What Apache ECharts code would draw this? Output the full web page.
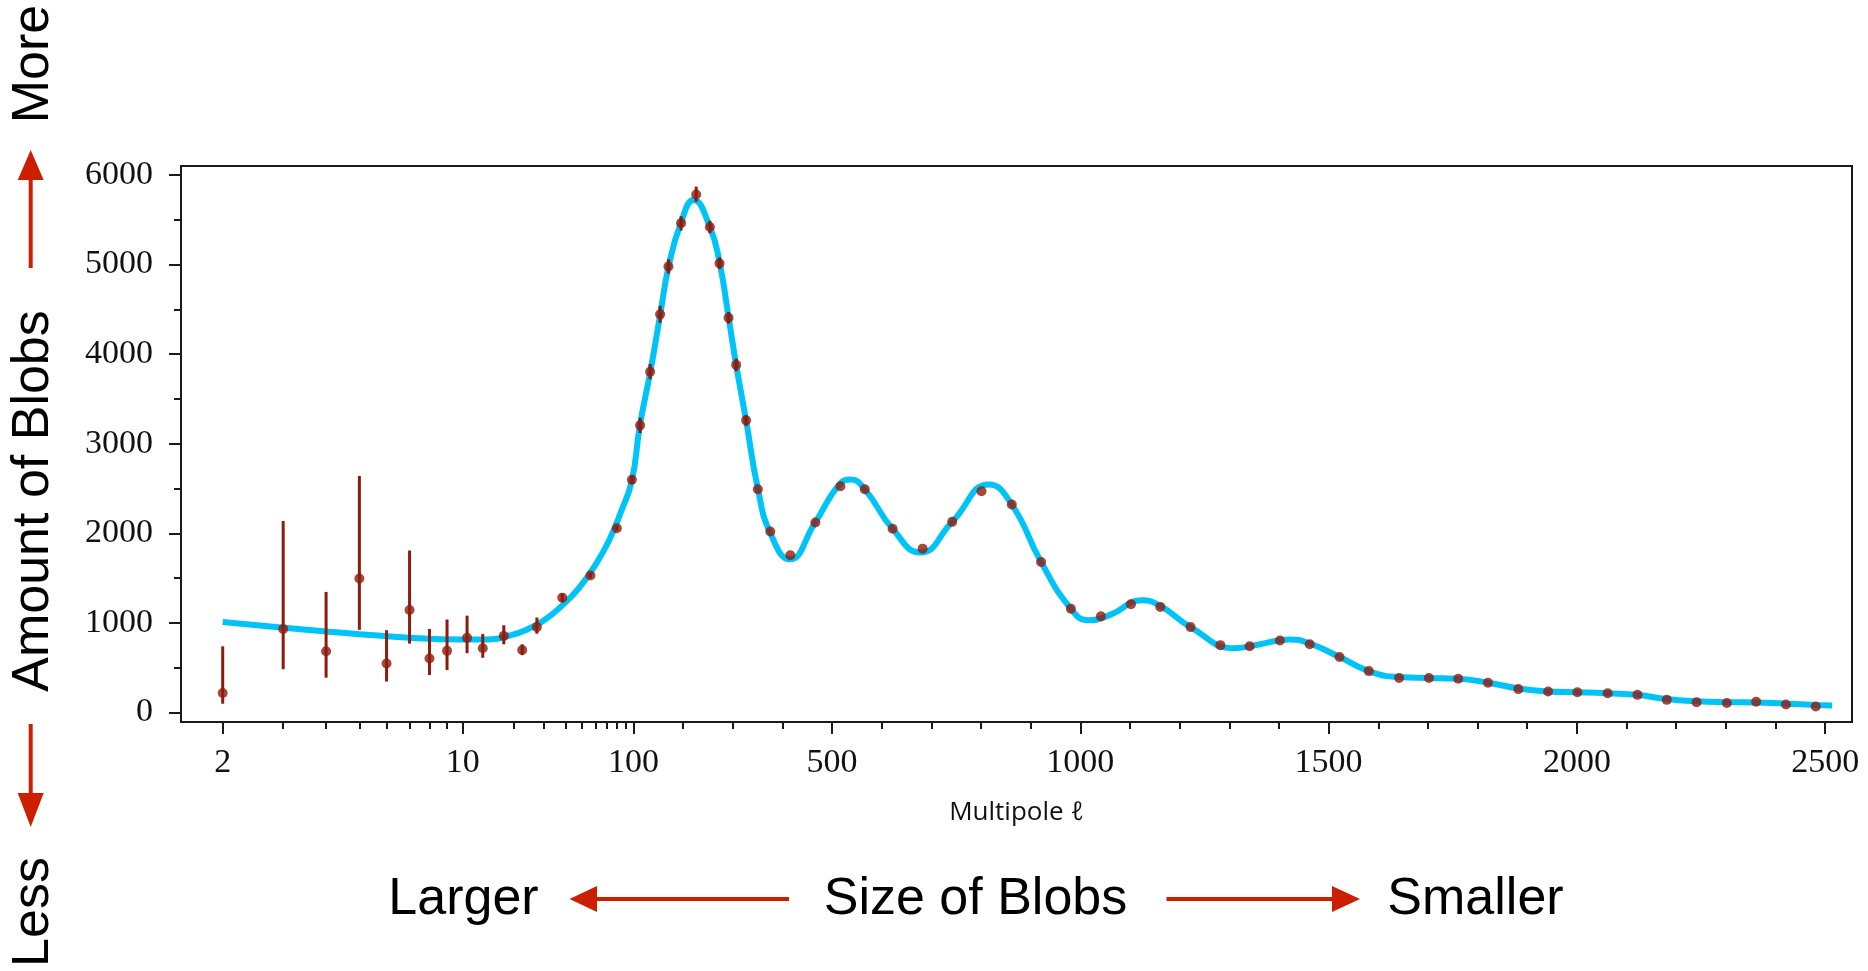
<!DOCTYPE html>
<html>
<head>
<meta charset="utf-8">
<script src="https://cdn.jsdelivr.net/npm/echarts@6/dist/echarts.min.js"></script>
<style>
html,body{margin:0;padding:0;background:#fff;}
#c{width:1868px;height:971px;}
</style>
</head>
<body>
<div id="c"></div>
<script>
// ---- data ----
const tickLabels = [2, 10, 100, 500, 1000, 1500, 2000, 2500];
const minorTickEll = [3,4,5,6,7,8,9,20,30,40,50,60,70,80,90,200,300,400,600,700,800,900,1100,1200,1300,1400,1600,1700,1800,1900,2100,2200,2300,2400];
const yMajor = [0,1000,2000,3000,4000,5000,6000];
const yMinor = [500,1500,2500,3500,4500,5500];

const dataEll = [2,3,4,5,6,7,8,9,10.6,13.1,17.4,22.3,27.2,38.3,56,80,98,113.5,133.7,153.8,170.6,196,226.5,254,273.5,291.6,307,327,350.6,375.7,416,466.5,517,566,622,682.5,742,801,862,921,981,1041.5,1102,1161,1222,1282,1341,1402,1462,1522,1581,1642,1702,1761,1821,1882,1942,2001,2062,2122,2181,2241,2302,2361,2421,2481];
const dataD = [218,932,684,1496,547,1145,603,688,833,718,855,697,953,1282,1530,2056,2598,3205,3803,4444,4979,5462,5782,5419,5013,4406,3880,3261,2491,2021,1756,2120,2526,2491,2051,1829,2128,2470,2321,1679,1158,1073,1209,1179,953,752,739,803,761,620,462,385,385,376,333,261,235,226,214,197,141,115,107,120,90,68];
const errLo = [98,483,389,923,346,769,419,474,662,611,761,641,880,1230,1500,2030,2550,3120,3720,4350,4900,5380,5700,5350,4950,4340,3810,3200,2491,2021,1756,2120,2526,2491,2051,1829,2128,2470,2321,1679,1158,1073,1209,1179,953,752,739,803,761,620,462,385,385,376,333,261,235,226,214,197,141,115,107,120,90,68];
const errHi = [739,2137,1346,2641,919,1808,932,1038,1081,876,974,761,1060,1330,1560,2080,2650,3290,3890,4540,5060,5540,5870,5490,5080,4470,3950,3320,2491,2021,1756,2120,2526,2491,2051,1829,2128,2470,2321,1679,1158,1073,1209,1179,953,752,739,803,761,620,462,385,385,376,333,261,235,226,214,197,141,115,107,120,90,68];

const modelEll = [2,4,7,10,14,19,24,30,38,48,60,72,85,98,113,134,154,171,196,221,254,274,292,307,327,351,376,415,466,517,537,566,622,678,742,816,862,921,981,1016,1060,1124,1161,1222,1311,1360,1422,1462,1522,1581,1642,1702,1761,1821,1882,1942,2001,2062,2122,2181,2241,2302,2361,2421,2481,2514];
const modelD = [1010,905,835,815,815,860,930,1030,1190,1390,1650,1920,2250,2590,3200,3800,4440,4980,5470,5720,5420,5010,4400,3880,3260,2490,2000,1710,2120,2560,2600,2490,2050,1786,2128,2545,2321,1679,1158,1030,1090,1252,1190,953,718,760,816,770,620,462,395,385,376,333,268,235,226,214,197,150,125,115,112,98,85,78];

// ---- piecewise multipole scale (log 2-10, compressed log 10-100, linear above) ----
function lx(ell) {
  if (ell <= 10) return 240 * Math.log10(ell / 2) / Math.log10(5);
  if (ell <= 100) return 240 + 170.6 * Math.log10(ell / 10);
  return 410.6 + (ell - 100) * 0.4965;
}

const chart = echarts.init(document.getElementById('c'));
const serif = "'Liberation Serif', 'DejaVu Serif', serif";
const sans = "'Liberation Sans', Arial, sans-serif";
const red = '#cc1f00';
const dotColor = '#8e1b0c';

const majorX = tickLabels.map(lx);
function labelFor(v) {
  let best = 0, bd = 1e9;
  majorX.forEach((m, i) => { const d = Math.abs(m - v); if (d < bd) { bd = d; best = i; } });
  return String(tickLabels[best]);
}
const tickStyle = { color: '#1a1a1a', width: 2 };

const option = {
  animation: false,
  grid: { left: 181, right: 16, top: 166, bottom: 249, show: true, borderColor: '#1a1a1a', borderWidth: 2, backgroundColor: 'transparent' },
  xAxis: [
    {
      type: 'value', min: -41.7, max: 1629, position: 'bottom', offset: 0,
      axisLine: { show: false, onZero: false },
      splitLine: { show: false },
      axisTick: { show: true, inside: false, length: 12, lineStyle: tickStyle, customValues: majorX },
      axisLabel: { show: true, margin: 24, fontFamily: serif, fontSize: 34, color: '#111', customValues: majorX, formatter: labelFor },
      name: 'Multipole \u2113', nameLocation: 'middle', nameGap: 78,
      nameTextStyle: { fontFamily: "'Open Sans', 'Noto Sans', sans-serif", fontSize: 26, color: '#111' }
    },
    {
      type: 'value', min: -41.7, max: 1629, position: 'bottom', offset: 0,
      axisLine: { show: false, onZero: false }, splitLine: { show: false },
      axisTick: { show: true, inside: false, length: 7, lineStyle: tickStyle, customValues: minorTickEll.map(lx) },
      axisLabel: { show: false }
    }
  ],
  yAxis: [
    {
      type: 'value', min: -106, max: 6100, position: 'left', offset: 0,
      axisLine: { show: false, onZero: false }, splitLine: { show: false },
      axisTick: { show: true, inside: false, length: 12, lineStyle: tickStyle, customValues: yMajor },
      axisLabel: { show: true, margin: 28, fontFamily: serif, fontSize: 34, color: '#111', customValues: yMajor, formatter: v => String(Math.round(v)) }
    },
    {
      type: 'value', min: -106, max: 6100, position: 'left', offset: 0,
      axisLine: { show: false, onZero: false }, splitLine: { show: false },
      axisTick: { show: true, inside: false, length: 7, lineStyle: tickStyle, customValues: yMinor },
      axisLabel: { show: false }
    }
  ],
  series: [
    {
      type: 'line', xAxisIndex: 0, yAxisIndex: 0, z: 2,
      data: modelEll.map((e, i) => [lx(e), modelD[i]]),
      showSymbol: false, smooth: 0.5,
      lineStyle: { color: '#00c3f7', width: 6 }
    },
    {
      type: 'custom', xAxisIndex: 0, yAxisIndex: 0, z: 3,
      data: dataEll.map((e, i) => [lx(e), errLo[i], errHi[i]]),
      renderItem: function (params, api) {
        const p1 = api.coord([api.value(0), api.value(1)]);
        const p2 = api.coord([api.value(0), api.value(2)]);
        return { type: 'line', shape: { x1: p1[0], y1: p1[1], x2: p2[0], y2: p2[1] }, style: { stroke: dotColor, lineWidth: 3 } };
      }
    },
    {
      type: 'scatter', xAxisIndex: 0, yAxisIndex: 0, z: 4,
      data: dataEll.map((e, i) => [lx(e), dataD[i]]),
      symbol: 'circle', symbolSize: 10,
      itemStyle: { color: dotColor }
    }
  ],
  graphic: [
    { type: 'text', x: 34, y: 64, rotation: Math.PI / 2, style: { text: 'More', font: '52px ' + sans, fill: '#000', align: 'center', verticalAlign: 'middle' } },
    { type: 'text', x: 34, y: 501, rotation: Math.PI / 2, style: { text: 'Amount of Blobs', font: '52px ' + sans, fill: '#000', align: 'center', verticalAlign: 'middle' } },
    { type: 'text', x: 34, y: 912, rotation: Math.PI / 2, style: { text: 'Less', font: '52px ' + sans, fill: '#000', align: 'center', verticalAlign: 'middle' } },
    { type: 'line', shape: { x1: 30.7, y1: 268, x2: 30.7, y2: 176 }, style: { stroke: red, lineWidth: 4 } },
    { type: 'polygon', shape: { points: [[30.7, 150], [17.7, 180], [43.7, 180]] }, style: { fill: red } },
    { type: 'line', shape: { x1: 30.7, y1: 724, x2: 30.7, y2: 797 }, style: { stroke: red, lineWidth: 4 } },
    { type: 'polygon', shape: { points: [[30.7, 827], [17.7, 793], [43.7, 793]] }, style: { fill: red } },
    { type: 'text', x: 463.5, y: 900, style: { text: 'Larger', font: '52px ' + sans, fill: '#000', align: 'center', verticalAlign: 'middle' } },
    { type: 'line', shape: { x1: 789, y1: 899, x2: 594, y2: 899 }, style: { stroke: red, lineWidth: 4 } },
    { type: 'polygon', shape: { points: [[569.5, 899], [597, 886], [597, 912]] }, style: { fill: red } },
    { type: 'text', x: 975.5, y: 900, style: { text: 'Size of Blobs', font: '52px ' + sans, fill: '#000', align: 'center', verticalAlign: 'middle' } },
    { type: 'line', shape: { x1: 1166.5, y1: 899, x2: 1335, y2: 899 }, style: { stroke: red, lineWidth: 4 } },
    { type: 'polygon', shape: { points: [[1360, 899], [1332, 886], [1332, 912]] }, style: { fill: red } },
    { type: 'text', x: 1475.5, y: 900, style: { text: 'Smaller', font: '52px ' + sans, fill: '#000', align: 'center', verticalAlign: 'middle' } }
  ]
};
chart.setOption(option);
</script>
</body>
</html>
